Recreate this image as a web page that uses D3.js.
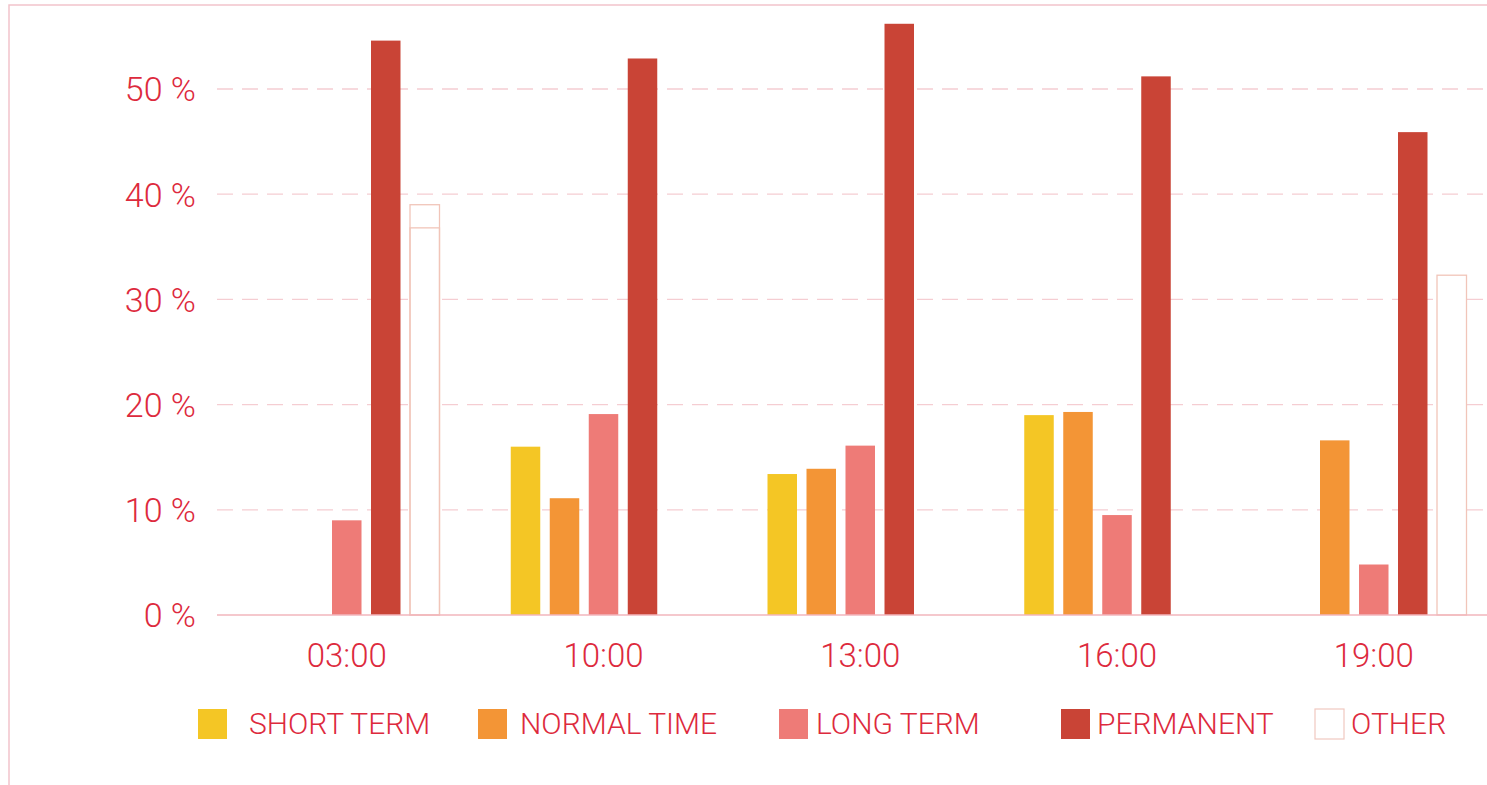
<!DOCTYPE html>
<html>
<head>
<meta charset="utf-8">
<script src="https://cdn.jsdelivr.net/npm/d3@7"></script>
<style>
  html, body { margin: 0; padding: 0; background: #ffffff; }
  svg { display: block; }
  text { font-family: Roboto, "Open Sans", sans-serif; font-weight: 300; }
</style>
</head>
<body>
<svg id="chart" width="1487" height="785"></svg>
<script>
// Share of contract types by time of day (%)
const categories = ["03:00", "10:00", "13:00", "16:00", "19:00"];
const seriesNames = ["SHORT TERM", "NORMAL TIME", "LONG TERM", "PERMANENT", "OTHER"];
const shortTerm  = [0, 16.0, 13.4, 19.0, 0];
const normalTime = [0, 11.1, 13.9, 19.3, 16.6];
const longTerm   = [9.0, 19.1, 16.1, 9.5, 4.8];
const permanent  = [54.6, 52.9, 56.2, 51.2, 45.9];
const other      = [39.0, 0, 0, 0, 32.3];
const otherEarlier = [36.8, 0, 0, 0, 0];
const yTicks = [0, 10, 20, 30, 40, 50];

const colors = ["#F4C625", "#F39536", "#EE7B77", "#C94436", "#FFFFFF"];
const textColor = "#DD2A3D";
const seriesValues = [shortTerm, normalTime, longTerm, permanent, other];

const svg = d3.select("#chart");

// outer frame (right and bottom sides run off the page)
svg.append("path")
  .attr("d", "M1500,5 H9 V790")
  .attr("fill", "none")
  .attr("stroke", "#F2C4CB")
  .attr("stroke-width", 1.5);

const x0 = d3.scaleBand()
  .domain(categories)
  .range([217, 1503.5])
  .paddingInner(0.2775)
  .paddingOuter(0.1441);

const x1 = d3.scaleBand()
  .domain(seriesNames)
  .range([0, x0.bandwidth()])
  .paddingInner(0.2436)
  .paddingOuter(0);

const y = d3.scaleLinear().domain([0, 50]).range([615, 89]);

// dashed gridlines
svg.append("g")
  .selectAll("line")
  .data(yTicks.filter(d => d > 0))
  .join("line")
  .attr("x1", 217).attr("x2", 1487)
  .attr("y1", d => y(d)).attr("y2", d => y(d))
  .attr("stroke", "#F5CDD2")
  .attr("stroke-width", 1.3)
  .attr("stroke-dasharray", "16 9");

// y axis labels
const yAxis = d3.axisLeft(y)
  .tickValues(yTicks)
  .tickFormat(d => d + " %")
  .tickSize(0)
  .tickPadding(0);
const yg = svg.append("g").attr("transform", "translate(196,0)").call(yAxis);
yg.select(".domain").remove();
yg.selectAll("text")
  .attr("fill", textColor)
  .attr("font-size", 34)
  .attr("dy", "0.35em");

// bars
const groups = svg.append("g")
  .selectAll("g")
  .data(categories)
  .join("g")
  .attr("transform", d => `translate(${x0(d)},0)`);

groups.selectAll("rect.bar")
  .data((c, i) => seriesNames.map((s, k) => ({ s, k, v: seriesValues[k][i] })).filter(d => d.v > 0))
  .join("rect")
  .attr("class", "bar")
  .attr("x", d => x1(d.s))
  .attr("width", x1.bandwidth())
  .attr("y", d => y(d.v))
  .attr("height", d => y(0) - y(d.v))
  .attr("fill", d => colors[d.k])
  .attr("stroke", d => d.s === "OTHER" ? "#F1C5B9" : "none")
  .attr("stroke-width", 1.3);

// earlier "other" reading drawn inside the outline bar
groups.selectAll("rect.prev")
  .data((c, i) => otherEarlier[i] > 0 ? [otherEarlier[i]] : [])
  .join("rect")
  .attr("class", "prev")
  .attr("x", x1("OTHER"))
  .attr("width", x1.bandwidth())
  .attr("y", d => y(d))
  .attr("height", d => y(0) - y(d))
  .attr("fill", "none")
  .attr("stroke", "#F1C5B9")
  .attr("stroke-width", 1.3);

// baseline
svg.append("line")
  .attr("x1", 217).attr("x2", 1487)
  .attr("y1", y(0)).attr("y2", y(0))
  .attr("stroke", "#F2B6BD")
  .attr("stroke-width", 1.5);

// x axis labels
const xAxis = d3.axisBottom(x0).tickSize(0).tickPadding(0);
const xg = svg.append("g").attr("transform", "translate(0,655)").call(xAxis);
xg.select(".domain").remove();
xg.selectAll("text")
  .attr("fill", textColor)
  .attr("font-size", 33)
  .attr("dy", "0.35em");

// legend
const legendX = [198, 478, 779, 1061, 1315];
const legendTextX = [249, 520, 816, 1097, 1351];
const legend = svg.append("g");
seriesNames.forEach((name, k) => {
  legend.append("rect")
    .attr("x", legendX[k])
    .attr("y", 709)
    .attr("width", 29)
    .attr("height", 30)
    .attr("fill", colors[k])
    .attr("stroke", name === "OTHER" ? "#F1C9C0" : "none")
    .attr("stroke-width", 1.2);
  legend.append("text")
    .attr("x", legendTextX[k])
    .attr("y", 723)
    .attr("dy", "0.35em")
    .attr("fill", textColor)
    .attr("font-size", 30)
    .text(name);
});
</script>
</body>
</html>
